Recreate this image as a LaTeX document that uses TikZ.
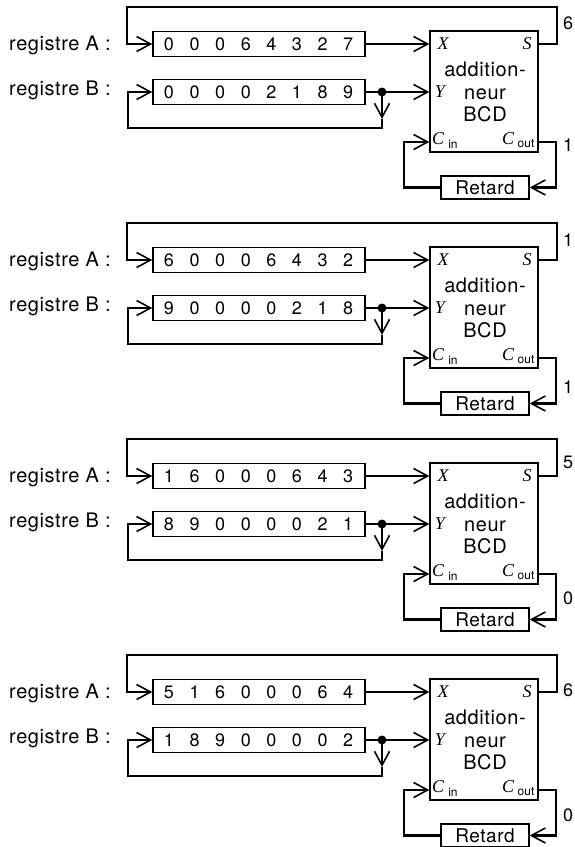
\documentclass[tikz,border=0pt]{standalone}
\usepackage{fontspec}
\setmainfont{TeX Gyre Heros}
\newfontfamily\labfont[LetterSpace=3]{TeX Gyre Heros}
\newfontfamily\serfont{Liberation Serif}
\usetikzlibrary{arrows.meta}

\tikzset{
  wire/.style={line width=2.4pt},
  arr/.style={-{Straight Barb[length=14pt,width=15pt,line width=1.6pt]}},
  box/.style={draw, line width=1.4pt, inner sep=0pt},
  regbox/.style={box, minimum width=212pt, minimum height=25pt},
  digit/.style={font=\fontsize{18}{18}\selectfont, inner sep=0pt},
  lbl/.style={font=\labfont\fontsize{20}{20}\selectfont, inner sep=0pt},
  addtext/.style={font=\labfont\fontsize{20}{22.5}\selectfont, align=center, inner sep=0pt},
  port/.style={font=\serfont\itshape\fontsize{18}{18}\selectfont, inner sep=0pt},
  sub/.style={font=\fontsize{12}{12}\selectfont, inner sep=0pt},
  val/.style={font=\fontsize{18}{18}\selectfont, inner sep=0pt},
  junction/.style={circle, fill, inner sep=0pt, minimum size=9pt},
}

% one step of the serial BCD addition:
% #1 vertical offset, #2 digits of A, #3 digits of B,
% #4 sum digit, #5 its label height, #6 carry, #7 its label height, #8 suffix
\newcommand{\etage}[8]{%
\begin{scope}[shift={(0,#1)}]
  % registers
  \node[lbl, anchor=base west] (la#8) at (9,50) {registre A};
  \node[lbl, anchor=base] (ca#8) at (108,50) {:};
  \node[lbl, anchor=base west] (lb#8) at (9,95) {registre B};
  \node[lbl, anchor=base] (cb#8) at (108,95) {:};
  \node[regbox] (A#8) at (259,44) {};
  \node[regbox] (B#8) at (259,92) {};
  \foreach \d [count=\i] in {#2}
    \node[digit] (a#8-\i) at ({169+25.6*(\i-1)},44) {\d};
  \foreach \d [count=\i] in {#3}
    \node[digit] (b#8-\i) at ({169+25.6*(\i-1)},92) {\d};
  % adder
  \node[box, minimum width=108pt, minimum height=121pt] (add#8) at (484,91.5) {};
  \node[addtext] (t#8) at (485,92) {addition-\\neur\\BCD};
  \node[port] (x#8) at (443,44) {X};
  \node[port] (y#8) at (440,92) {Y};
  \node[port] (s#8) at (527,44) {S};
  \node[port] (ci#8) at (438,139) {C};
  \node[sub] (cis#8) at (453,144) {in};
  \node[port] (co#8) at (508,139) {C};
  \node[sub] (cos#8) at (526,144) {out};
  % delay
  \node[box, minimum width=88pt, minimum height=23pt, font=\labfont\fontsize{19}{19}\selectfont] (ret#8) at (485,187.5) {Retard};
  % sum fed back into register A
  \coordinate (ne#8) at (557,7);
  \coordinate (nw#8) at (127,7);
  \draw[wire, arr] (add#8.east |- A#8.center) -| (ne#8) -- (nw#8) |- (A#8.west);
  \draw[wire, arr] (A#8.east) -- (A#8.east -| add#8.west);
  % register B recirculates
  \node[junction] (j#8) at (382,92) {};
  \coordinate (jt#8) at (382,119);
  \coordinate (jb#8) at (382,128);
  \coordinate (bw#8) at (128,128);
  \draw[wire] (B#8.east) -- (j#8.center);
  \draw[wire, arr] (j#8.center) -- (j#8.center -| add#8.west);
  \draw[wire, arr] (j#8.center) -- (jt#8);
  \draw[wire, arr] (jt#8) -- (jb#8) -- (bw#8) |- (B#8.west);
  % carry through the delay
  \coordinate (cr#8) at (556,142);
  \coordinate (cl#8) at (404,142);
  \draw[wire, arr] (add#8.east |- cr#8) -- (cr#8) |- (ret#8.east);
  \draw[wire, arr] (ret#8.west) -| (cl#8) -- (cl#8 -| add#8.west);
  % values on the output lines
  \node[val] (vs#8) at (568,#5) {#4};
  \node[val] (vc#8) at (568,#7) {#6};
\end{scope}}

\begin{document}
\begin{tikzpicture}[x=1pt, y=-1pt]
  \useasboundingbox (0,0) rectangle (574,847);
  \etage{0}{0,0,0,6,4,3,2,7}{0,0,0,0,2,1,8,9}{6}{23}{1}{145}{1}
  \etage{216}{6,0,0,0,6,4,3,2}{9,0,0,0,0,2,1,8}{1}{24}{1}{171}{2}
  \etage{432}{1,6,0,0,0,6,4,3}{8,9,0,0,0,0,2,1}{5}{30}{0}{166}{3}
  \etage{648}{5,1,6,0,0,0,6,4}{1,8,9,0,0,0,0,2}{6}{42}{0}{167}{4}
\end{tikzpicture}
\end{document}
